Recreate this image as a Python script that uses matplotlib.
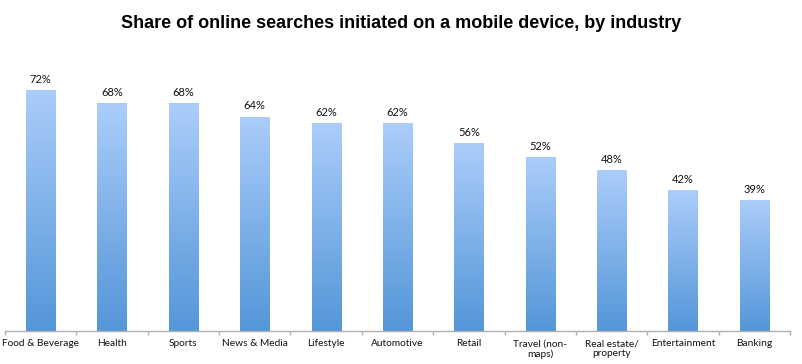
import numpy as np
import matplotlib
matplotlib.use("Agg")
import matplotlib.pyplot as plt
from matplotlib.colors import LinearSegmentedColormap

categories = ["Food & Beverage", "Health", "Sports", "News & Media", "Lifestyle",
              "Automotive", "Retail", "Travel (non-\nmaps)", "Real estate/\nproperty",
              "Entertainment", "Banking"]
shares = [72, 68, 68, 64, 62, 62, 56, 52, 48, 42, 39]

plt.rcParams['font.family'] = ['Lato', 'DejaVu Sans']

fig = plt.figure(figsize=(8.03, 3.64), dpi=100)
ax = fig.add_axes([5 / 803, 33 / 364, 785 / 803, 298 / 364])

x = np.arange(len(categories))
bars = ax.bar(x, shares, width=0.41, color="none", edgecolor="none")

# vertical gradient, light on top, darker at the base
cmap = LinearSegmentedColormap.from_list("grad", ["#5496d8", "#abcdfa"])
grad = np.linspace(0, 1, 256).reshape(-1, 1)
ymax = 89
for b in bars:
    x0 = b.get_x()
    w = b.get_width()
    h = b.get_height()
    im = ax.imshow(grad, cmap=cmap, aspect="auto", origin="lower",
                   extent=[x0, x0 + w, 0, h], zorder=2)
    im.set_clip_path(b)

for xi, v in zip(x, shares):
    ax.text(xi, v + 1.6, f"{v}%", ha="center", va="bottom", fontsize=8, color="#111111")

ax.set_xlim(-0.5, len(categories) - 0.5)
ax.set_ylim(0, ymax)

for s in ["top", "right", "left"]:
    ax.spines[s].set_visible(False)
ax.spines["bottom"].set_color("#b0b0b0")
ax.spines["bottom"].set_linewidth(1)

ax.set_yticks([])
ax.set_xticks(x)
ax.set_xticklabels(categories, fontsize=7.3, color="#111111", linespacing=1.1)
ax.tick_params(axis="x", which="major", length=0, pad=6)
ax.set_xticks(np.arange(len(categories) + 1) - 0.5, minor=True)
ax.tick_params(axis="x", which="minor", length=3, color="#b0b0b0", width=1)

fig.text(0.5, 1 - 23 / 364, "Share of online searches initiated on a mobile device, by industry",
         ha="center", va="center", fontsize=13, fontweight="bold",
         family=["Liberation Sans", "DejaVu Sans"])

fig.savefig("out.png", dpi=100)
